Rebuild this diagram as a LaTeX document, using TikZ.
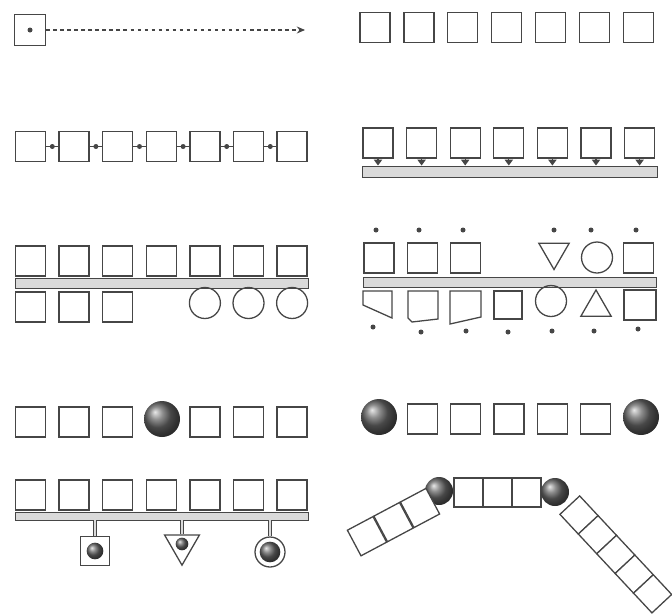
\documentclass[tikz,border=0pt]{standalone}
\usepackage{tikz}
\usetikzlibrary{shapes.geometric, arrows.meta, positioning}
\definecolor{ink}{RGB}{70, 70, 70}
\definecolor{busgray}{RGB}{218, 218, 218}
\tikzset{
    cell/.style={draw=ink, line width=1.1pt, fill=white, inner sep=0pt, minimum size=0.9cm},
    ring/.style={circle, draw=ink, line width=1.1pt, inner sep=0pt, minimum size=0.9cm},
    tri/.style={regular polygon, regular polygon sides=3, draw=ink, line width=1.1pt, inner sep=0pt, minimum size=1.05cm},
    pearl/.style={circle, shading=ball, ball color=black!60, inner sep=0pt, minimum size=1.08cm},
    bead/.style={circle, fill=ink, inner sep=0pt, minimum size=0.15cm},
    bus/.style={draw=ink, line width=0.8pt, fill=busgray, inner sep=0pt, minimum height=0.3cm},
    link/.style={draw=ink, line width=1.1pt},
    stub/.style={draw=ink, line width=0.9pt, double=busgray, double distance=1.6pt}
}

\begin{document}
\begin{tikzpicture}[x=0.03cm, y=-0.03cm]
    \useasboundingbox (0,0) rectangle (672,615);

    % free element
    \node[cell, minimum size=0.93cm] (src) at (30,30) {};
    \node[bead] (srcdot) at (src.center) {};
    \coordinate (sink) at (305,30);
    \draw[link, line width=0.9pt, dashed, -{Stealth[length=7pt, width=6pt]}] (src.east) -- (sink);

    \foreach \i in {1,...,7}
        \node[cell] (top\i) at ({375+43.9*(\i-1)},27.5) {};

    % chain
    \foreach \i in {1,...,7}
        \node[cell] (chain\i) at ({30.5+43.6*(\i-1)},146.5) {};
    \foreach \i [count=\j from 2] in {1,...,6}
        \draw[link] (chain\i.east) -- node[bead] (knot\i) {} (chain\j.west);

    % docked on a bar
    \node[bus, minimum width=8.85cm, minimum height=0.33cm] (busB) at (509.5,171.5) {};
    \foreach \i in {1,...,7} {
        \node[cell] (dock\i) at ({378+43.6*(\i-1)},143) {};
        \draw[link, -{Triangle[length=5pt, width=7pt]}] (dock\i.south) -- (dock\i.south |- busB.north);
    }

    % two rows on a bar
    \node[bus, minimum width=8.79cm] (busC) at (161.5,283) {};
    \foreach \i in {1,...,7}
        \node[cell] (up\i) at ({30.5+43.6*(\i-1)},261) {};
    \foreach \i in {1,2,3}
        \node[cell] (low\i) at ({30.5+43.6*(\i-1)},307) {};
    \foreach \i in {5,6,7}
        \node[ring, minimum size=0.93cm] (low\i) at ({30.5+43.6*(\i-1)},303) {};

    % mixed shapes on a bar
    \node[bus, minimum width=8.79cm] (busD) at (509.5,282) {};
    \foreach \i in {1,2,3}
        \node[cell] (mixA\i) at ({379+43.3*(\i-1)},258) {};
    \node[tri, shape border rotate=180] (mixA5) at (554,252) {};
    \node[ring, minimum size=0.93cm] (mixA6) at (597,257.5) {};
    \node[cell] (mixA7) at (638.8,258) {};
    \foreach \x/\n in {376/1, 419/2, 463/3, 554/5, 591/6, 636/7}
        \node[bead] (inA\n) at (\x,230) {};

    \draw[link] (363,291) -- (392,291) -- (392,318) -- (363,305) -- cycle;
    \draw[link] (408,291) -- (438,291) -- (438,319) -- (412,322) -- (408,318) -- cycle;
    \draw[link] (450,291) -- (481,291) -- (481,317) -- (450,324) -- cycle;
    \node[cell, minimum size=0.84cm] (mixB4) at (508,305) {};
    \node[ring, minimum size=0.93cm] (mixB5) at (551,301) {};
    \node[tri] (mixB6) at (596,307.5) {};
    \node[cell, minimum width=0.96cm] (mixB7) at (640,305) {};
    \foreach \x/\y/\n in {373/327/1, 421/332/2, 466/331/3, 508/332/4, 552/331/5, 594/331/6, 638/329/7}
        \node[bead] (inB\n) at (\x,\y) {};

    % one sphere in the row
    \foreach \i in {1,2,3,5,6,7}
        \node[cell] (row\i) at ({30.5+43.6*(\i-1)},422) {};
    \node[pearl] (row4) at (162,419) {};

    \node[pearl] (endL) at (379,417) {};
    \foreach \i in {2,...,6}
        \node[cell] (end\i) at ({379+43.3*(\i-1)},419) {};
    \node[pearl] (endR) at (641,417) {};

    % bar with taps
    \node[bus, minimum width=8.79cm, minimum height=0.24cm] (busE) at (161.5,516) {};
    \foreach \i in {1,...,7}
        \node[cell] (bar\i) at ({30.5+43.6*(\i-1)},495) {};
    \node[cell, minimum size=0.87cm] (tapA) at (95,551) {};
    \node[pearl, minimum width=0.5cm, minimum height=0.42cm] (coreA) at (tapA.center) {};
    \node[tri, shape border rotate=180, minimum size=1.21cm] (tapB) at (182,545) {};
    \node[pearl, minimum size=0.38cm] (coreB) at (182,544) {};
    \node[ring] (tapC) at (270,552) {};
    \node[pearl, minimum size=0.62cm] (coreC) at (tapC.center) {};
    \draw[stub] (busE.south -| tapA) -- (tapA.north);
    \draw[stub] (busE.south -| tapB) -- (tapB.north);
    \draw[stub] (busE.south -| tapC) -- (tapC.north);

    % bent chain
    \node[pearl, minimum size=0.84cm] (hingeL) at (439,491) {};
    \foreach \i in {1,2,3}
        \node[cell, minimum size=0.87cm] (span\i) at ({468.5+29*(\i-1)},492.5) {};
    \node[pearl, minimum size=0.84cm] (hingeR) at (555,492) {};
    \foreach \i in {1,2,3}
        \node[cell, minimum size=0.87cm, rotate=28] (armL\i) at ({420-26.5*(\i-1)},{508+14.1*(\i-1)}) {};
    \foreach \i in {1,...,5}
        \node[cell, minimum size=0.81cm, rotate=-47] (armR\i) at ({579+18.4*(\i-1)},{515+19.7*(\i-1)}) {};
  \end{tikzpicture}
\end{document}
